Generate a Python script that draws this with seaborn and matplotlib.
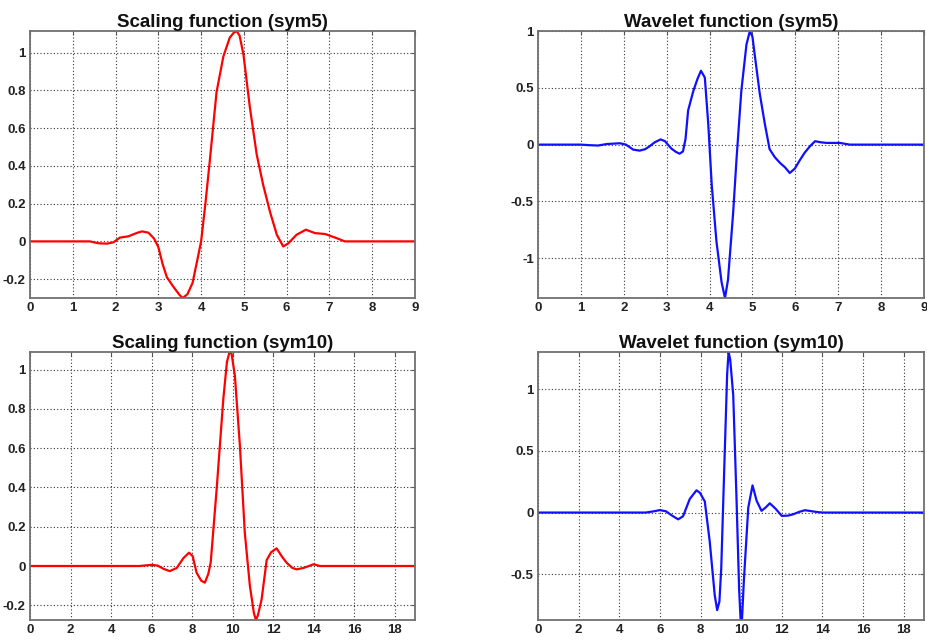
import numpy as np
import pandas as pd
import matplotlib
matplotlib.use("Agg")
import matplotlib.pyplot as plt
import seaborn as sns

# sym5 scaling function (phi)
sym5_phi_x = [0, 1.4, 1.6, 1.8, 1.95, 2.1, 2.3, 2.5, 2.62, 2.77, 2.9, 3.0, 3.1, 3.2,
              3.35, 3.5, 3.57, 3.68, 3.8, 3.91, 4.0, 4.1, 4.2, 4.36, 4.52, 4.67, 4.76,
              4.83, 4.9, 4.99, 5.14, 5.3, 5.45, 5.61, 5.77, 5.92, 6.04, 6.23, 6.45,
              6.66, 6.9, 7.17, 7.36, 9]
sym5_phi_y = [0, 0, -0.01, -0.012, -0.005, 0.02, 0.027, 0.045, 0.053, 0.046, 0.015,
              -0.03, -0.12, -0.19, -0.24, -0.285, -0.30, -0.28, -0.22, -0.1, 0.0, 0.2,
              0.42, 0.79, 0.98, 1.08, 1.105, 1.115, 1.09, 0.99, 0.71, 0.46, 0.30,
              0.157, 0.035, -0.027, -0.01, 0.035, 0.062, 0.044, 0.039, 0.017, 0.0, 0]

# sym5 wavelet function (psi)
sym5_psi_x = [0, 1.0, 1.2, 1.4, 1.6, 1.91, 2.05, 2.22, 2.37, 2.5, 2.6, 2.72, 2.86,
              2.96, 3.11, 3.22, 3.3, 3.38, 3.44, 3.5, 3.62, 3.72, 3.8, 3.89, 3.97,
              4.05, 4.16, 4.28, 4.36, 4.43, 4.55, 4.63, 4.74, 4.86, 4.94, 5.0, 5.05,
              5.17, 5.29, 5.4, 5.52, 5.64, 5.76, 5.87, 5.99, 6.1, 6.22, 6.34, 6.46,
              6.6, 6.73, 7.04, 7.27, 9]
sym5_psi_y = [0, 0, -0.005, -0.008, 0.005, 0.012, 0.0, -0.044, -0.053, -0.04, -0.015,
              0.02, 0.046, 0.03, -0.035, -0.065, -0.08, -0.06, 0.05, 0.30, 0.47, 0.58,
              0.65, 0.59, 0.18, -0.35, -0.85, -1.21, -1.35, -1.19, -0.60, -0.12, 0.47,
              0.88, 1.0, 0.95, 0.8, 0.45, 0.18, -0.04, -0.11, -0.16, -0.2, -0.25,
              -0.21, -0.14, -0.07, -0.015, 0.03, 0.02, 0.015, 0.015, 0.0, 0]

# sym10 scaling function (phi)
sym10_phi_x = [0, 5.4, 6.0, 6.3, 6.6, 6.9, 7.24, 7.57, 7.85, 8.03, 8.22, 8.45, 8.63,
               8.8, 8.92, 9.21, 9.54, 9.72, 9.85, 9.95, 10.11, 10.36, 10.6, 10.85,
               11.05, 11.15, 11.25, 11.43, 11.68, 11.9, 12.17, 12.42, 12.66, 12.95,
               13.16, 13.5, 14.0, 14.3, 19]
sym10_phi_y = [0, 0, 0.006, 0.002, -0.015, -0.026, -0.01, 0.04, 0.068, 0.05, -0.034,
               -0.075, -0.085, -0.04, 0.02, 0.39, 0.85, 1.04, 1.09, 1.08, 0.97, 0.61,
               0.17, -0.10, -0.24, -0.275, -0.25, -0.17, 0.03, 0.07, 0.09, 0.05, 0.017,
               -0.01, -0.017, -0.01, 0.009, 0.0, 0]

# sym10 wavelet function (psi)
sym10_psi_x = [0, 5.3, 5.7, 6.0, 6.3, 6.6, 6.9, 7.14, 7.47, 7.8, 7.97, 8.21, 8.45,
               8.7, 8.82, 8.93, 9.02, 9.15, 9.31, 9.38, 9.46, 9.61, 9.77, 9.9, 9.97,
               10.04, 10.13, 10.35, 10.56, 10.76, 11.0, 11.2, 11.41, 11.7, 12.0, 12.3,
               12.56, 12.85, 13.14, 13.71, 14.0, 19]
sym10_psi_y = [0, 0, 0.01, 0.02, 0.01, -0.025, -0.055, -0.03, 0.11, 0.18, 0.16, 0.09,
               -0.23, -0.67, -0.79, -0.72, -0.45, 0.26, 1.12, 1.30, 1.24, 0.95, 0.12,
               -0.62, -0.86, -0.87, -0.56, 0.04, 0.22, 0.096, 0.014, 0.04, 0.075, 0.03,
               -0.027, -0.025, -0.014, 0.005, 0.019, 0.005, 0.0, 0]

titles = ["Scaling function (sym5)", "Wavelet function (sym5)",
          "Scaling function (sym10)", "Wavelet function (sym10)"]
x_ticks_sym5 = list(range(0, 10))
x_ticks_sym10 = list(range(0, 19, 2))
y_ticks = [[-0.2, 0, 0.2, 0.4, 0.6, 0.8, 1],
           [-1, -0.5, 0, 0.5, 1],
           [-0.2, 0, 0.2, 0.4, 0.6, 0.8, 1],
           [-0.5, 0, 0.5, 1]]
y_ticklabels = [["-0.2", "0", "0.2", "0.4", "0.6", "0.8", "1"],
                ["-1", "-0.5", "0", "0.5", "1"],
                ["-0.2", "0", "0.2", "0.4", "0.6", "0.8", "1"],
                ["-0.5", "0", "0.5", "1"]]

sns.set_style("white")
plt.rcParams["font.family"] = ["Liberation Sans", "DejaVu Sans"]

W, H = 928, 640
fig = plt.figure(figsize=(W / 100, H / 100), dpi=100)
fig.patch.set_facecolor("white")

# axes boxes in pixels: left, top, right, bottom
boxes = [(30, 31, 415, 298), (538, 31, 924, 298),
         (30, 352, 415, 620), (538, 352, 924, 620)]

series = [
    (sym5_phi_x, sym5_phi_y, "#ff0000", 9, x_ticks_sym5),
    (sym5_psi_x, sym5_psi_y, "#1010ff", 9, x_ticks_sym5),
    (sym10_phi_x, sym10_phi_y, "#ff0000", 19, x_ticks_sym10),
    (sym10_psi_x, sym10_psi_y, "#1010ff", 19, x_ticks_sym10),
]

for i, ((l, t, r, b), (xs, ys, color, xmax, xt)) in enumerate(zip(boxes, series)):
    ax = fig.add_axes([l / W, 1 - b / H, (r - l) / W, (b - t) / H])
    df = pd.DataFrame({"t": xs, "v": ys})
    sns.lineplot(data=df, x="t", y="v", ax=ax, color=color, linewidth=1.6,
                 sort=False, estimator=None)
    ax.set_xlim(0, xmax)
    ax.set_ylim(min(ys), max(ys))
    ax.set_xticks(xt)
    ax.set_xticklabels([str(v) for v in xt])
    ax.set_yticks(y_ticks[i])
    ax.set_yticklabels(y_ticklabels[i])
    ax.set_xlabel("")
    ax.set_ylabel("")
    ax.grid(True, color="#333333", linestyle=(0, (1, 2)), linewidth=0.8)
    ax.set_axisbelow(True)
    for s in ax.spines.values():
        s.set_visible(True)
        s.set_color("#707070")
        s.set_linewidth(1.3)
    ax.tick_params(axis="both", direction="in", length=3, width=0.8,
                   color="#555555", top=True, right=True, pad=3,
                   labelsize=9.5, labelcolor="#222222")
    for lab in ax.get_xticklabels() + ax.get_yticklabels():
        lab.set_fontweight("bold")
    ax.set_title(titles[i], fontsize=13.5, fontweight="bold", color="#111111", pad=3)

fig.savefig("out.png", dpi=100, facecolor="white")
